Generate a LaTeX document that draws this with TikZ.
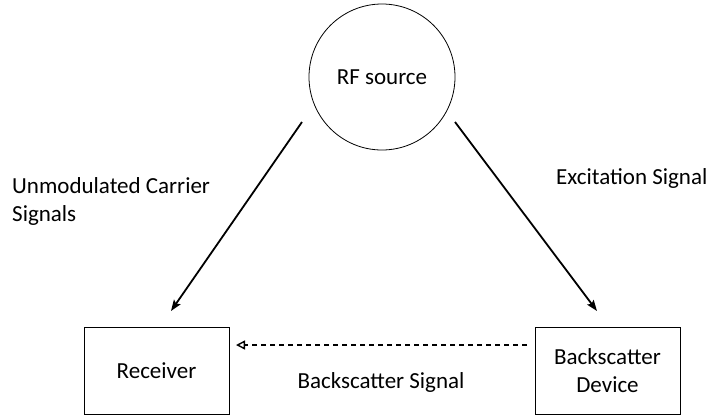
\documentclass[tikz,border=0pt]{standalone}
\usepackage{fontspec}
\setmainfont{Carlito}
\usetikzlibrary{arrows.meta}
\begin{document}
\begin{tikzpicture}[x=1pt,y=-1pt,
  lbl/.style={font=\fontsize{23}{28}\selectfont, inner sep=0pt},
  boxnode/.style={draw, line width=1pt, minimum width=145pt, minimum height=87pt, inner sep=0pt, align=center, font=\fontsize{23}{28}\selectfont},
  signal/.style={line width=1.8pt, -{Stealth[length=11pt,width=8pt,inset=2pt]}},
  reflect/.style={line width=1.4pt, dashed, dash pattern=on 5pt off 4pt, -{Triangle[open,length=9pt,width=9pt,line width=1.4pt]}}]
\useasboundingbox (0,0) rectangle (712,416);
\node[draw, circle, line width=0.8pt, minimum size=146pt, inner sep=0pt, font=\fontsize{23}{28}\selectfont] (src) at (382,77) {RF source};
\node[boxnode] (rx) at (156.5,370.5) {Receiver};
\node[boxnode] (bd) at (607.5,370.5) {Backscatter\\Device};
\coordinate (s1) at (302,122);
\coordinate (e1) at (171,311);
\coordinate (s2) at (455,122);
\coordinate (e2) at (597,311);
\coordinate (s3) at (527,345);
\coordinate (e3) at (236,345);
\draw[signal] (s1) -- (e1);
\draw[signal] (s2) -- (e2);
\draw[reflect] (s3) -- (e3);
\node[lbl, anchor=west, align=left] (um) at (12,201) {Unmodulated Carrier\\Signals};
\node[lbl, anchor=west] (ex) at (556,178) {Excitation Signal};
\node[lbl] (bs) at (381,382) {Backscatter Signal};
\end{tikzpicture}
\end{document}
